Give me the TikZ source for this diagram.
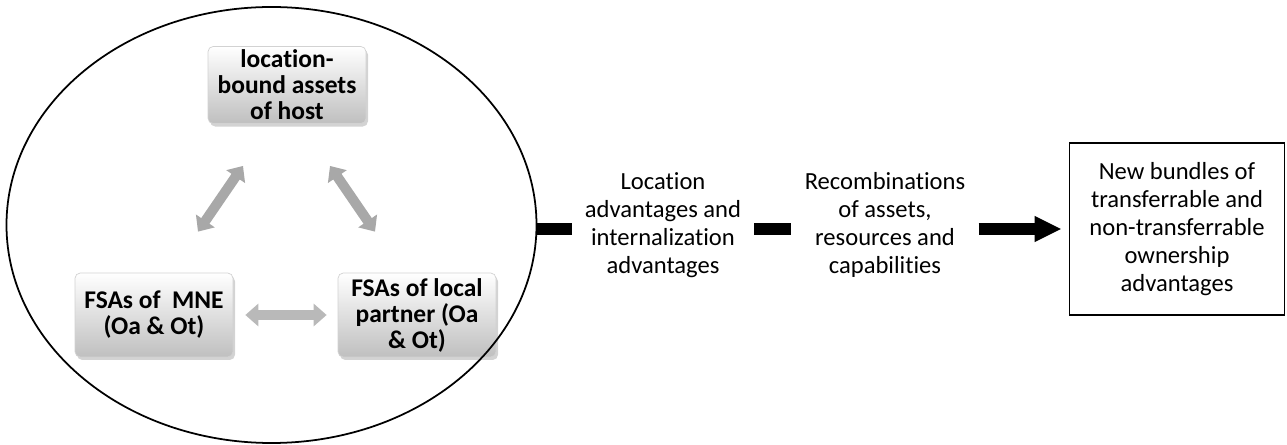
\documentclass[tikz,border=0pt]{standalone}
\usepackage{fontspec}
\setmainfont{Carlito}[Ligatures=NoCommon]
\usepackage{tikz}
\usetikzlibrary{shapes.geometric, arrows.meta, shadows}
\tikzstyle{asset} = [rectangle, rounded corners=3pt, draw=gray!35, top color=white, bottom color=gray!50, drop shadow={opacity=0.35, shadow xshift=0.04cm, shadow yshift=-0.06cm}, minimum width=3.16cm, minimum height=1.68cm, align=center, inner sep=2pt, font=\fontsize{14.5}{14.8}\selectfont\bfseries]
\tikzstyle{note} = [align=center, inner xsep=0.26cm, inner ysep=0pt, font=\fontsize{14}{16}\selectfont]
\tikzstyle{result} = [rectangle, draw, line width=0.9pt, minimum width=4.30cm, minimum height=3.44cm, align=center, font=\fontsize{14}{16}\selectfont]
\tikzstyle{bar} = [line width=0.24cm]
\tikzstyle{bigarrow} = [line width=0.24cm, -{Triangle[width=0.48cm, length=0.54cm]}]
\tikzstyle{dblarrow} = [line width=0.2cm, gray!68, {Triangle[width=0.44cm, length=0.26cm]}-{Triangle[width=0.44cm, length=0.26cm]}]

\begin{document}
\begin{tikzpicture}[node distance=2cm]

\useasboundingbox (0,0) rectangle (25.74,-8.9);

\node (host)     [asset, minimum height=1.52cm] at (5.74,-1.70)     {location-\\bound assets\\of host};
\node (mne)      [asset, below of=host, xshift=-2.66cm, yshift=-2.6cm] {FSAs of\ \ MNE\\(Oa \& Ot)};
\node (partner)  [asset, right of=mne, xshift=3.26cm]                {FSAs of local\\partner (Oa\\\& Ot)};
\node (circ)     [ellipse, draw, line width=1pt, minimum width=10.6cm, minimum height=8.72cm, inner sep=0pt] at (5.43,-4.50) {};
\node (loc)      [note, right of=circ, xshift=5.83cm]                 {Location\\advantages and\\internalization\\advantages};
\node (rec)      [note, right of=loc, xshift=2.44cm]                  {Recombinations\\of assets,\\resources and\\capabilities};
\node (bundles)  [result, right of=rec, xshift=3.84cm, yshift=-0.08cm] {New bundles of\\transferrable and\\non-transferrable\\ownership\\advantages};

\draw [dblarrow] ([xshift=0.88cm, yshift=0.82cm]mne.north) -- ([xshift=-0.88cm, yshift=-0.84cm]host.south);
\draw [dblarrow] ([xshift=0.86cm, yshift=-0.84cm]host.south) -- ([xshift=-0.84cm, yshift=0.82cm]partner.north);
\draw [dblarrow, gray!55, shorten <=0.24cm, shorten >=0.22cm] (mne) -- (partner);
\draw [bar] (circ.east |- bundles) -- (loc.west |- bundles);
\draw [bar] (loc.east |- bundles) -- (rec.west |- bundles);
\draw [bigarrow, shorten >=0.14cm] (rec.east |- bundles) -- (bundles.west);

\end{tikzpicture}
\end{document}
